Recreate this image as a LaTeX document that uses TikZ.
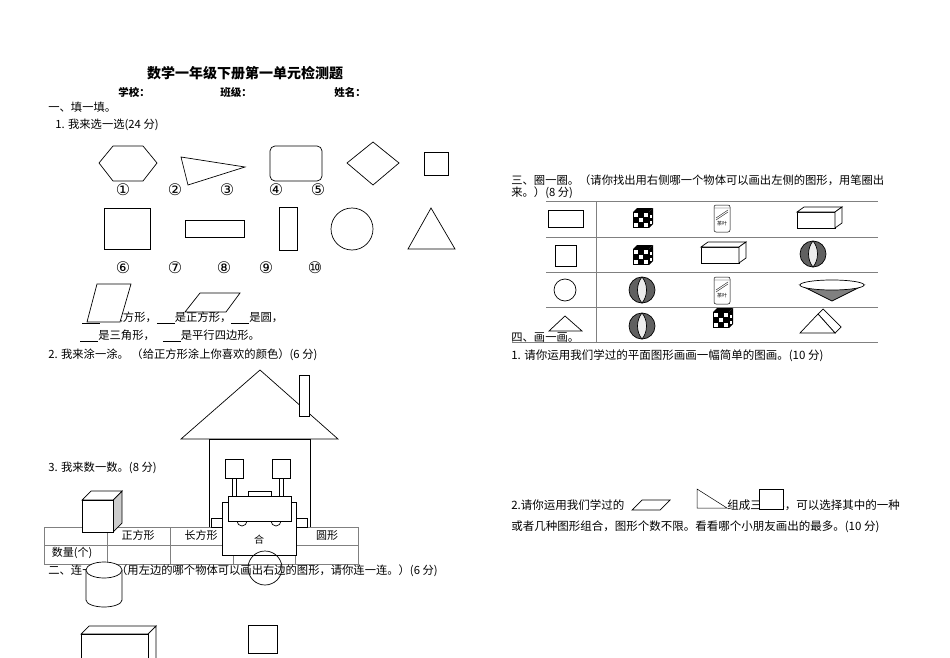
\documentclass[tikz,border=0pt]{standalone}
\usepackage{fontspec}
\setmainfont{Noto Sans CJK SC}
\newfontfamily\sym{DejaVu Sans}
\begin{document}
\begin{tikzpicture}[x=1pt,y=-1pt,line width=0.7pt,
  t/.style={anchor=west,inner sep=0,font=\fontsize{11.3}{12}\selectfont},
  tb/.style={anchor=west,inner sep=0,font=\fontsize{10.5}{12}\selectfont\bfseries},
  lb/.style={inner sep=0,font=\sym\fontsize{16}{16}\selectfont},
  wf/.style={draw,fill=white}]
\useasboundingbox (0,0) rectangle (950,658);
% header
\node[inner sep=0,font=\fontsize{14}{16}\selectfont\bfseries] (title) at (245,73) {数学一年级下册第一单元检测题};
\node[tb] (s1) at (118,92) {学校：};
\node[tb] (s2) at (220,92) {班级：};
\node[tb] (s3) at (334,92) {姓名：};
\node[t] (h1) at (48,107) {一、填一填。};
\node[t] (q1) at (55,125) {1. 我来选一选(24 分)};
% row 1 shapes
\draw (99,163)--(113,146)--(143,146)--(157,163)--(143,181)--(113,181)--cycle;
\draw (181,157)--(245,167)--(188,185)--cycle;
\draw[rounded corners=5pt] (270,146) rectangle (322,181);
\draw (373,142)--(399,163)--(373,185)--(347,163)--cycle;
\draw (424,152) rectangle (448,175);
\foreach \x/\l in {123/①,175/②,227/③,276/④,318/⑤}{\node[lb] at (\x,190) {\l};}
% row 2
\draw (104,208) rectangle (150,249);
\draw (185,220) rectangle (244,237);
\draw (279,207) rectangle (297,250);
\draw (352,229) circle (21);
\draw (408,249)--(455,249)--(431,208)--cycle;
\foreach \x/\l in {123/⑥,175/⑦,224/⑧,266/⑨,315/⑩}{\node[lb] at (\x,268) {\l};}
\node[t] (f1) at (82,318) {\underline{\hspace{18pt}}是长方形，\underline{\hspace{18pt}}是正方形，\underline{\hspace{18pt}}是圆，};
\node[t] (f2) at (80,336) {\underline{\hspace{18pt}}是三角形，\hspace{8pt}\underline{\hspace{18pt}}是平行四边形。};
\draw[fill=white] (87,322)--(97,284)--(131,284)--(120,322)--cycle;
\draw (185,312)--(200,293)--(240,293)--(226,312)--cycle;
\node[t] (q2) at (48,355) {2. 我来涂一涂。 （给正方形涂上你喜欢的颜色）(6 分)};
% house
\draw (181,439)--(260,370)--(338,439)--cycle;
\draw[wf] (299,375) rectangle (309,416);
\draw (209,439) rectangle (310,527);
\node[t] (q3) at (48,468) {3. 我来数一数。(8 分)};
% table
\draw[line width=0.4pt,gray] (44,527) rectangle (358,564) (44,545)--(358,545)
  (107,527)--(107,564) (170,527)--(170,564) (233,527)--(233,564) (295,527)--(295,564);
\node[inner sep=0,font=\fontsize{11}{12}\selectfont] at (138,535) {正方形};
\node[inner sep=0,font=\fontsize{11}{12}\selectfont] at (201,535) {长方形};
\node[inner sep=0,font=\fontsize{11}{12}\selectfont] at (327,535) {圆形};
\node[inner sep=0,font=\fontsize{11}{12}\selectfont] at (72,553) {数量(个)};
% robot
\draw[wf] (225,459) rectangle (243,478);
\draw[wf] (272,459) rectangle (290,478);
\draw (232,478)--(232,496) (236,478)--(236,496) (279,478)--(279,496) (283,478)--(283,496);
\draw[wf] (211,518) rectangle (222,527);
\draw[wf] (296,518) rectangle (307,527);
\draw[wf] (222,502) rectangle (296,555);
\draw[wf] (248,491) rectangle (271,497);
\draw (237,521) arc (180:0:5);
\draw (271,521) arc (180:0:5);
\draw[wf] (228,496) rectangle (291,521);
\node[inner sep=0,font=\fontsize{10}{12}\selectfont] at (259,540) {合};
% cube
\draw[fill=gray!40] (113,500)--(122,491)--(122,523)--(113,532)--cycle;
\draw[wf] (82,500)--(91,491)--(122,491)--(113,500)--cycle;
\draw[wf] (82,500) rectangle (113,532);
\node[t] (h2) at (48,571) {二、连一连。（用左边的哪个物体可以画出右边的图形，请你连一连。）(6 分)};
\draw (265,568) circle (17);
% cylinder
\draw[wf] (86,570)--(86,600) arc (180:0:18 and 7) --(122,570);
\draw[wf] (104,570) ellipse (18 and 8);
% cuboid
\draw[wf] (81,634)--(89,626)--(156,626)--(148,634)--cycle;
\draw[wf] (148,634)--(156,626)--(156,660)--(148,668)--cycle;
\draw[wf] (81,634) rectangle (148,668);
\draw (248,625) rectangle (277,653);
% right side
\node[t] (h3) at (511,180) {三、圈一圈。（请你找出用右侧哪一个物体可以画出左侧的图形，用笔圈出};
\node[t] (h3b) at (511,193) {来。）(8 分)};
\foreach \y in {201,237,272,307}{\draw[line width=0.5pt,gray] (546,\y)--(878,\y);}
\draw[line width=0.5pt,gray] (512,342)--(878,342);
\draw[line width=0.5pt,gray] (596,201)--(596,342);
\node[t] (h4) at (511,338) {四、画一画。};
% left column shapes
\draw (548,210) rectangle (583,227);
\draw (555,245) rectangle (576,266);
\draw (565,290) circle (11);
\draw[wf] (549,331)--(565,316)--(582,331)--cycle;
% checker cubes
\foreach \cx/\cy in {642/218,642/255,722/318}{
 \begin{scope}[shift={(\cx-9,\cy-6)}]
  \fill (0,0)--(4,-4)--(20,-4)--(16,0)--cycle;
  \fill (16,0)--(20,-4)--(20,12)--(16,16)--cycle;
  \fill (0,0) rectangle (16,16);
  \foreach \i/\j in {0/0,2/0,1/1,0/2,2/2}{\fill[white] (\i*5.33+0.8,\j*5.33+0.8) rectangle +(3.8,3.8);}
  \fill[white] (17,3) rectangle +(2,3); \fill[white] (17,9) rectangle +(2,3);
 \end{scope}}
% balls
\foreach \cx/\cy in {813/254,642/290,642/326}{
 \draw[fill=gray!75!black] (\cx,\cy) circle (13);
 \draw[fill=gray!15] (\cx,\cy-13) .. controls (\cx-6,\cy-6) and (\cx-6,\cy+6) .. (\cx,\cy+13) .. controls (\cx+6,\cy+6) and (\cx+6,\cy-6) .. (\cx,\cy-13);}
% cans
\foreach \cx/\cy in {722/218,722/290}{
 \draw[wf,line width=0.5pt,rounded corners=2pt] (\cx-8,\cy-13) rectangle (\cx+8,\cy+14);
 \draw[line width=0.4pt] (\cx-8,\cy-10)--(\cx+8,\cy-10) (\cx-6,\cy)--(\cx+6,\cy-8) (\cx-6,\cy+2)--(\cx+6,\cy-6);
 \node[inner sep=0,font=\fontsize{5}{5}\selectfont] at (\cx,\cy+6) {茶叶};}
% cuboids right
\draw[wf] (797,212) rectangle (835,228);
\draw[wf] (797,212)--(804,207)--(842,207)--(835,212)--cycle;
\draw[wf] (835,212)--(842,207)--(842,223)--(835,228)--cycle;
\draw[wf] (701,247) rectangle (739,263);
\draw[wf] (701,247)--(708,242)--(746,242)--(739,247)--cycle;
\draw[wf] (739,247)--(746,242)--(746,258)--(739,263)--cycle;
% cone
\draw[fill=gray] (800,285)--(832,301)--(864,285)--cycle;
\draw[wf] (832,285) ellipse (32 and 5);
% prism
\draw[wf] (818,314)--(823,309)--(841,327)--(835,333)--cycle;
\draw[wf] (800,333)--(818,314)--(835,333)--cycle;
% part 4
\node[inner sep=0,anchor=west,font=\fontsize{11.5}{13}\selectfont] (p1) at (511,356) {1. 请你运用我们学过的平面图形画画一幅简单的图画。(10 分)};
\node[inner sep=0,anchor=west,font=\fontsize{11.5}{13}\selectfont] (p2a) at (511,505) {2.请你运用我们学过的};
\node[inner sep=0,anchor=west,font=\fontsize{11.5}{13}\selectfont] (p2b) at (727,505) {组成三角形，可以选择其中的一种};
\node[inner sep=0,anchor=west,font=\fontsize{11.5}{13}\selectfont] (p2c) at (511,527) {或者几种图形组合，图形个数不限。看看哪个小朋友画出的最多。(10 分)};
\draw (632,510)--(642,500)--(670,500)--(660,510)--cycle;
\draw[line width=0.5pt] (697,489)--(697,508)--(727,508)--cycle;
\draw[wf,line width=0.5pt] (759,489) rectangle (783,509);
\end{tikzpicture}
\end{document}
